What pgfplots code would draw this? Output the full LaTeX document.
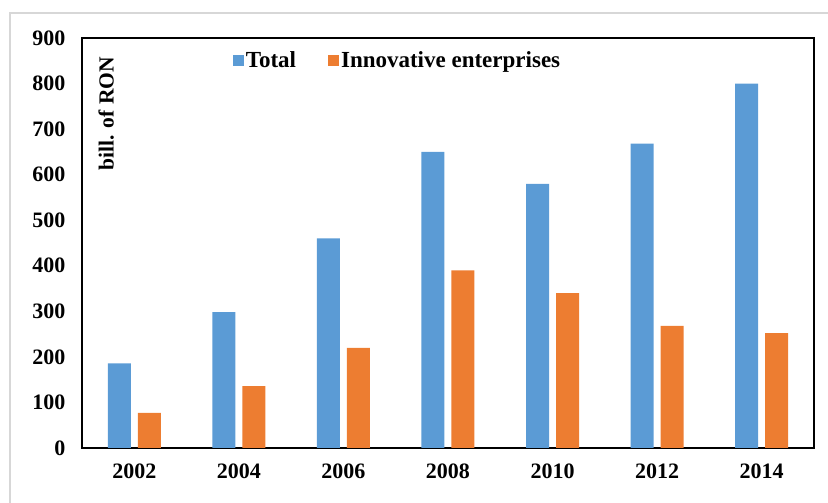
\documentclass[border=0pt]{standalone}
\usepackage{fontspec}
\setmainfont{Liberation Serif}
\usepackage{pgfplots}
\pgfplotsset{compat=1.18}
\definecolor{totblue}{RGB}{91,155,213}
\definecolor{innorange}{RGB}{237,125,49}
\definecolor{framegray}{RGB}{215,215,215}

\begin{document}
\begin{tikzpicture}
\useasboundingbox (-82pt,-55pt) rectangle (746pt,448pt);
\draw[framegray, line width=1.5pt] (-72pt,-60pt) -- (-72pt,435pt) -- (750pt,435pt);
\begin{axis}[
    scale only axis,
    width=732pt, height=410pt,
    ybar=7pt, bar width=23pt,
    xmin=-0.5, xmax=6.5,
    ymin=0, ymax=900,
    xtick=data,
    xticklabels={2002,2004,2006,2008,2010,2012,2014},
    ytick={0,100,...,900},
    major tick length=0pt,
    axis line style={line width=1.2pt},
    /pgf/number format/assume math mode=true,
    tick label style={font=\fontsize{22}{26}\selectfont\bfseries},
    yticklabel style={xshift=-13pt},
    xticklabel style={yshift=-12pt},
    legend style={draw=none, fill=none, at={(0.431,0.945)}, anchor=center,
        font=\fontsize{23}{27}\selectfont\bfseries, legend columns=2,
        /tikz/every even column/.append style={column sep=30pt}},
    legend image code/.code={\fill[#1] (-4pt,-5.5pt) rectangle (7pt,5.5pt);},
]
\addplot[fill=totblue, draw=none] coordinates {
    (0,186) (1,298) (2,460) (3,650) (4,580) (5,668) (6,800)
};
\addplot[fill=innorange, draw=none] coordinates {
    (0,77) (1,136) (2,220) (3,390) (4,340) (5,268) (6,252)
};
\legend{Total, Innovative enterprises}
\node[rotate=90, font=\fontsize{21.5}{25}\selectfont\bfseries]
    at (rel axis cs:0.033,0.815) {bill. of RON};
\end{axis}
\end{tikzpicture}
\end{document}
